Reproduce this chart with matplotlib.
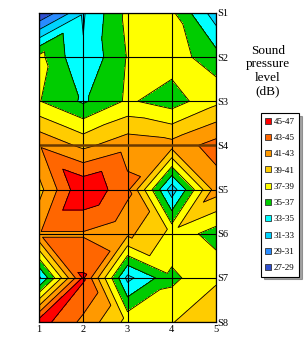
import matplotlib
matplotlib.use("Agg")
import matplotlib.pyplot as plt
import matplotlib.tri as mtri
import numpy as np
from matplotlib.lines import Line2D

# 网格数据（列 1..5，行 S1..S8）
cols = [1, 2, 3, 4, 5]
rows = ["S1", "S2", "S3", "S4", "S5", "S6", "S7", "S8"]
s1 = [27.0, 32.8, 37.5, 37.4, 31.9]
s2 = [37.6, 33.2, 37.1, 38.0, 35.8]
s3 = [37.1, 34.7, 37.3, 36.0, 38.5]
s4 = [42.8, 40.5, 42.3, 41.8, 43.8]
s5 = [40.3, 46.9, 43.5, 31.8, 42.0]
s6 = [42.8, 42.8, 41.5, 38.5, 36.0]
s7 = [32.5, 45.3, 32.4, 36.5, 38.7]
s8 = [46.0, 42.5, 38.4, 38.9, 40.5]

levels = [27, 29, 31, 33, 35, 37, 39, 41, 43, 45, 47]
band_labels = ["27-29", "29-31", "31-33", "33-35", "35-37",
               "37-39", "39-41", "41-43", "43-45", "45-47"]
band_colors = ["#3050d0", "#2a8cff", "#00d4ff", "#00ffff", "#00cc00",
               "#ffff00", "#ffcc00", "#ff9900", "#ff6600", "#ff0000"]

z = np.array([s1, s2, s3, s4, s5, s6, s7, s8])
nr, nc = z.shape

# 节点坐标
xx, yy = np.meshgrid(np.array(cols, dtype=float), np.arange(1, nr + 1, dtype=float))
xs = xx.ravel()
ys = yy.ravel()
zs = z.ravel()


def idx(r, c):
    return r * nc + c


# 每个单元格按对角线拆成两个三角形（连接数值较高的那条对角线）
triangles = []
for r in range(nr - 1):
    for c in range(nc - 1):
        a, b = idx(r, c), idx(r, c + 1)
        d, e = idx(r + 1, c), idx(r + 1, c + 1)
        if zs[d] + zs[b] >= zs[a] + zs[e]:
            triangles += [[a, b, d], [b, d, e]]
        else:
            triangles += [[a, b, e], [a, d, e]]

tri = mtri.Triangulation(xs, ys, triangles)

serif = ["Liberation Serif", "DejaVu Serif"]

fig = plt.figure(figsize=(3.07, 3.44), dpi=100)
ax = fig.add_axes([39 / 307, 22 / 344, 177 / 307, 309 / 344])

ax.tricontourf(tri, zs, levels=levels, colors=band_colors)
ax.tricontour(tri, zs, levels=levels, colors="black", linewidths=0.6)

for x in cols:
    ax.axvline(x, color="black", lw=0.8)
for i, _ in enumerate(rows):
    if rows[i] == "S4":
        ax.axhline(i + 1, color="#6b3a00", lw=1.8)
    else:
        ax.axhline(i + 1, color="black", lw=0.8)

ax.set_xlim(1, 5)
ax.set_ylim(nr, 1)
ax.set_xticks(cols)
ax.set_xticklabels([str(c) for c in cols], fontfamily=serif, fontsize=7.5)
ax.set_yticks(range(1, nr + 1))
ax.set_yticklabels(rows, fontfamily=serif, fontsize=7.5)
ax.yaxis.tick_right()
ax.tick_params(axis="both", length=0)
ax.tick_params(axis="x", pad=2)
ax.tick_params(axis="y", pad=1)
for sp in ax.spines.values():
    sp.set_color("black")
    sp.set_linewidth(0.9)

fig.text(268 / 307, 1 - 45 / 344, "Sound\npressure\nlevel\n(dB)", ha="center", va="top",
         fontfamily=serif, fontsize=9.5, linespacing=1.15)

handles = [Line2D([], [], marker="s", linestyle="", markersize=4,
                  markerfacecolor=c, markeredgecolor="#333333", markeredgewidth=0.6)
           for c in band_colors[::-1]]
leg = fig.legend(handles, band_labels[::-1], loc="upper left",
                 bbox_to_anchor=(261 / 307, 1 - 113 / 344),
                 prop={"family": serif, "size": 6.5}, frameon=True, fancybox=False,
                 shadow=True, edgecolor="black", handlelength=0.6, handletextpad=0.3,
                 labelspacing=0.88, borderpad=0.5, borderaxespad=0)
leg.get_frame().set_linewidth(0.8)

fig.savefig("out.png", dpi=100)
